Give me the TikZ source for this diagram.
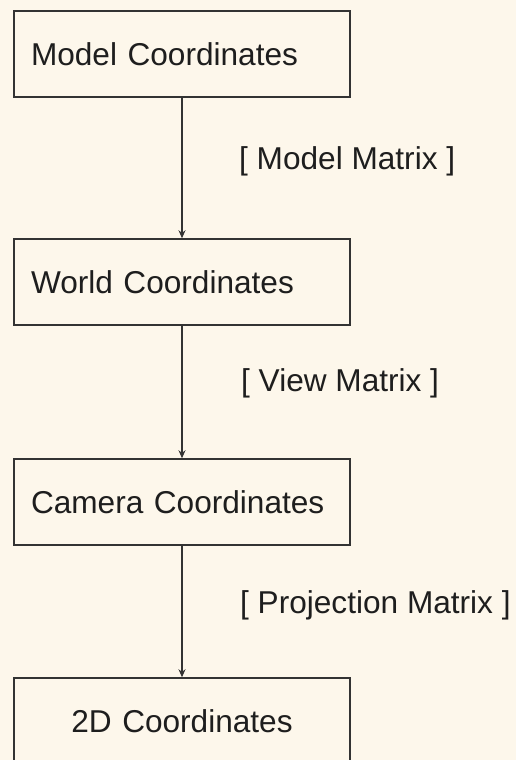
\documentclass[tikz,border=0pt]{standalone}
\usepackage{fontspec}
\setmainfont{Liberation Sans}
\usetikzlibrary{arrows.meta}
\definecolor{bg}{HTML}{FDF7EB}
\definecolor{ink}{HTML}{333333}
\definecolor{txt}{HTML}{1E1E1E}
\begin{document}
\begin{tikzpicture}[x=1pt,y=-1pt,
  box/.style={draw=ink, line width=1.5pt, fill=bg, minimum width=336pt, minimum height=86pt,
    text width=302pt, inner xsep=17pt, inner ysep=0pt, align=left, text=txt,
    font=\fontsize{31.6}{38}\selectfont},
  lbl/.style={anchor=west, inner sep=0pt, text=txt, font=\fontsize{31.6}{38}\selectfont},
  conn/.style={draw=ink, line width=1.5pt, -{Stealth[length=8pt,width=7pt]}}]
\clip (0,0) rectangle (516,760);
\fill[bg] (0,0) rectangle (516,760);
\node[box] (m) at (182,54) {Model Coordinates};
\node[box] (w) at (182,282) {World Coordinates};
\node[box] (c) at (182,502) {Camera Coordinates};
\node[box, align=center] (d) at (182,721) {2D Coordinates};
\draw[conn] (m) -- (w);
\draw[conn] (w) -- (c);
\draw[conn] (c) -- (d);
\node[lbl] (lm) at (239,161) {[ Model Matrix ]};
\node[lbl] (lv) at (241,383) {[ View Matrix ]};
\node[lbl] (lp) at (240,605) {[ Projection Matrix ]};
\end{tikzpicture}
\end{document}
